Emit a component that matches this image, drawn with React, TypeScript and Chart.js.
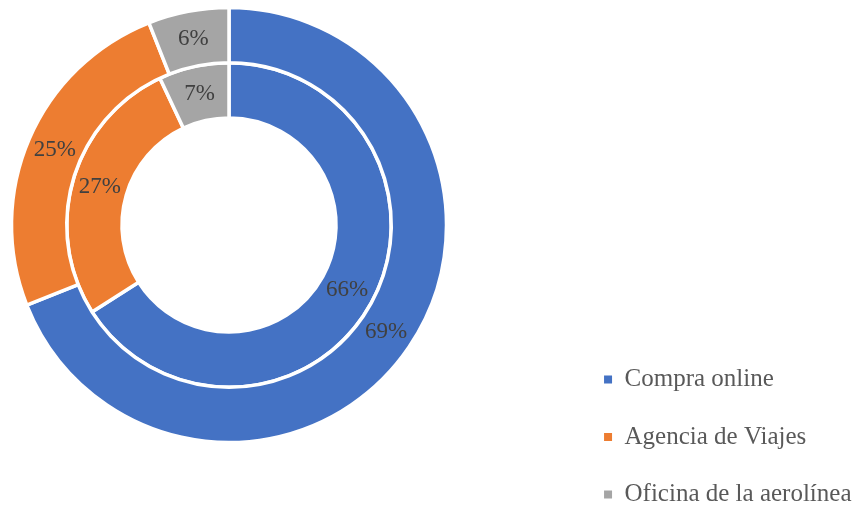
import React, { useEffect, useRef } from 'react';
import { Chart, registerables } from 'chart.js';

Chart.register(...registerables);

const categories = ['Compra online', 'Agencia de Viajes', 'Oficina de la aerolínea'];
const outerValues = [69, 25, 6];
const innerValues = [66, 27, 7];
const colors = ['#4472C4', '#ED7D31', '#A5A5A5'];

const FONT = '"Liberation Serif", "Times New Roman", serif';

// Region (in canvas pixels) the doughnut is laid out in, left of the legend
const plotArea = { left: 0, top: 0, right: 458, bottom: 450 };

const plotAreaPlugin = {
  id: 'plotArea',
  afterLayout(chart: any) {
    const a = chart.chartArea;
    a.left = plotArea.left;
    a.top = plotArea.top;
    a.right = plotArea.right;
    a.bottom = plotArea.bottom;
    a.width = plotArea.right - plotArea.left;
    a.height = plotArea.bottom - plotArea.top;
  },
};

const ringLabels = {
  id: 'ringLabels',
  afterDatasetsDraw(chart: any) {
    const ctx = chart.ctx;
    ctx.save();
    ctx.font = `23px ${FONT}`;
    ctx.fillStyle = '#404040';
    ctx.textAlign = 'center';
    ctx.textBaseline = 'middle';
    chart.data.datasets.forEach((ds: any, di: number) => {
      const meta = chart.getDatasetMeta(di);
      meta.data.forEach((arc: any, i: number) => {
        const p = arc.tooltipPosition(false);
        ctx.fillText(`${ds.data[i]}%`, p.x, p.y);
      });
    });
    ctx.restore();
  },
};

export default function App() {
  const ref = useRef<HTMLCanvasElement | null>(null);

  useEffect(() => {
    if (!ref.current) return;
    const chart = new Chart(ref.current, {
      type: 'doughnut',
      data: {
        labels: categories,
        datasets: [
          { data: outerValues, backgroundColor: colors, borderColor: '#ffffff', borderWidth: 3.5 },
          { data: innerValues, backgroundColor: colors, borderColor: '#ffffff', borderWidth: 3.5 },
        ],
      },
      options: {
        responsive: true,
        maintainAspectRatio: false,
        animation: false,
        radius: 217.5,
        cutout: '49.2%',
        layout: { padding: { left: 0, right: -4.5, top: -90, bottom: -33.5 } },
        plugins: {
          legend: {
            position: 'right',
            align: 'end',
            labels: {
              boxWidth: 8,
              boxHeight: 8,
              padding: 32.5,
              color: '#595959',
              font: { family: FONT, size: 25 },
              generateLabels: () =>
                categories.map((c, i) => ({
                  text: c,
                  fillStyle: colors[i],
                  strokeStyle: colors[i],
                  lineWidth: 0,
                  hidden: false,
                  index: i,
                  fontColor: '#595959',
                })),
            },
          },
          tooltip: { enabled: false },
        },
      } as any,
      plugins: [plotAreaPlugin, ringLabels],
    });
    return () => chart.destroy();
  }, []);

  return (
    <div style={{ position: 'fixed', left: 0, top: 0, width: 857, height: 506, background: '#fff' }}>
      <canvas ref={ref} />
    </div>
  );
}
